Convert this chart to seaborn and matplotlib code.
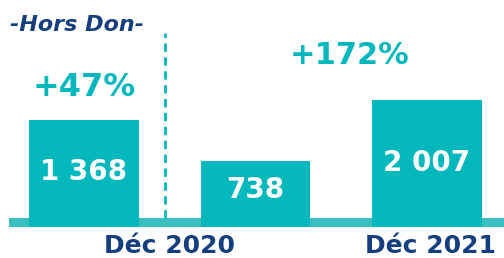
import numpy as np
import pandas as pd
import matplotlib
matplotlib.use("Agg")
import matplotlib.pyplot as plt
import seaborn as sns

# data
bars = ["Déc 2020 (1)", "Déc 2020 (2)", "Déc 2021"]
value_labels = ["1 368", "738", "2 007"]
# drawn heights (the infographic bars are not to scale)
bar_height = [107, 66, 127]
growth_labels = ["+47%", "+172%"]
tick_labels = ["Déc 2020", "Déc 2021"]
subtitle = "-Hors Don-"

TEAL = "#03B8BD"
TEAL_LINE = "#3ABFC1"
NAVY = "#143E7D"

sns.set_theme(style="white")
plt.rcParams["font.family"] = ["DejaVu Sans"]

df = pd.DataFrame({"bar": bars, "height": bar_height})

fig = plt.figure(figsize=(5.04, 2.58), dpi=100)
ax = fig.add_axes([0, 0, 1, 1])

sns.barplot(data=df, x="bar", y="height", color=TEAL, saturation=1,
            width=0.64, linewidth=0, ax=ax, zorder=3)

# base strip
ax.axhspan(0, 9, xmin=9 / 504, xmax=1, color=TEAL_LINE, zorder=2, lw=0)

# dashed separator
ax.plot([0.47, 0.47], [9, 194], color=TEAL, lw=2, ls=(0, (3, 2)), zorder=1)

ax.set_xlim(-84 / 171.5, (504 - 84) / 171.5)
ax.set_ylim(-31, 227)
ax.axis("off")

# values inside the bars
for i, (h, lab) in enumerate(zip(bar_height, value_labels)):
    ax.text(i, 0.44 * h + 8, lab, ha="center", va="center", color="white",
            fontsize=20, fontweight="bold", zorder=4)

# growth labels
ax.text(0, 140, growth_labels[0], ha="center", va="center", color=TEAL,
        fontsize=23, fontweight="bold")
ax.text(1.55, 171, growth_labels[1], ha="center", va="center", color=TEAL,
        fontsize=22, fontweight="bold")

# category labels
for xpos, lab in zip([0.5, 2.02], tick_labels):
    ax.text(xpos, -19, lab, ha="center", va="center", color=NAVY,
            fontsize=18, fontweight="bold")

fig.text(10 / 504, 1 - 25 / 258, subtitle, ha="left", va="center",
         color=NAVY, fontsize=16, fontstyle="italic", fontweight="bold")

fig.savefig("out.png", dpi=100)
